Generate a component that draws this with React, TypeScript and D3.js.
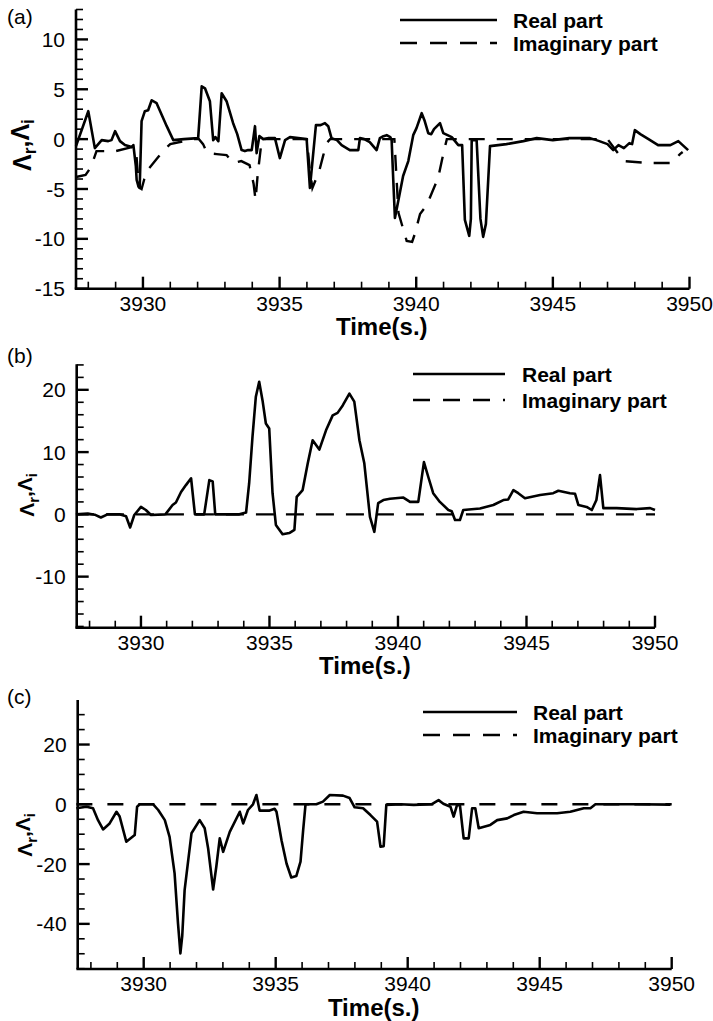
import React from "react";
import * as d3 from "d3";

// ---------- DATA ----------
const xTicksMajor = [3930, 3935, 3940, 3945, 3950];
const legendLabels = ["Real part", "Imaginary part"];
const panelLetters = ["(a)", "(b)", "(c)"];
const xAxisTitle = "Time(s.)";

const yTicksA = [-15, -10, -5, 0, 5, 10];
const yTicksB = [-10, 0, 10, 20];
const yTicksC = [-40, -20, 0, 20];

// Panel (a) real part [time, value]
const realA: [number, number][] = [
  [3927.55, -0.7], [3928.0, 2.8], [3928.24, -0.9], [3928.49, -0.1], [3928.73, -0.2],
  [3928.85, -0.1], [3928.98, 0.8], [3929.16, -0.2], [3929.34, -0.6], [3929.59, -0.8],
  [3929.65, -0.6], [3929.74, -2.7], [3929.77, -4.1], [3929.83, -4.7], [3929.88, -4.9],
  [3929.95, 1.8], [3930.07, 2.8], [3930.19, 2.9], [3930.32, 3.9], [3930.5, 3.6],
  [3930.87, 1.3], [3931.11, -0.1], [3931.5, 0.0], [3932.02, 0.1], [3932.15, 5.3],
  [3932.27, 5.1], [3932.45, 3.8], [3932.57, -0.1], [3932.65, 0.2], [3932.76, -0.2],
  [3932.88, 4.6], [3933.06, 3.8], [3933.3, 1.6], [3933.45, 0.5], [3933.61, -1.1],
  [3933.73, -1.2], [3933.85, -1.1], [3933.98, -1.1], [3934.1, 1.3], [3934.16, -1.4],
  [3934.26, 0.3], [3934.4, 0.0], [3934.6, 0.1], [3934.83, 0.1], [3935.01, -1.9],
  [3935.2, -0.1], [3935.38, 0.2], [3935.99, 0.0], [3936.11, -4.9], [3936.33, 1.4],
  [3936.5, 1.4], [3936.66, 1.6], [3936.78, 1.3], [3936.9, 0.1], [3937.1, -0.1],
  [3937.27, -0.6], [3937.57, -1.1], [3937.88, -1.1], [3937.94, 0.1], [3938.1, 0.0],
  [3938.3, -0.3], [3938.55, -1.1], [3938.67, 0.1], [3938.8, 0.3], [3938.92, 0.4],
  [3939.05, 0.2], [3939.1, -0.1], [3939.16, -4.1], [3939.22, -7.9], [3939.3, -6.8],
  [3939.52, -3.7], [3939.71, -2.2], [3939.89, 0.4], [3940.01, 1.1], [3940.2, 2.6],
  [3940.3, 1.9], [3940.44, 0.6], [3940.55, 0.5], [3940.65, 1.0], [3940.87, 1.6],
  [3940.99, 0.6], [3941.3, 0.2], [3941.54, -0.6], [3941.68, -0.6], [3941.78, -8.1],
  [3941.94, -9.7], [3942.0, -8.0], [3942.03, -0.1], [3942.21, -0.1], [3942.35, -8.0],
  [3942.45, -9.8], [3942.55, -8.5], [3942.7, -0.7], [3943.3, -0.5], [3943.92, -0.2],
  [3944.41, 0.1], [3945.0, -0.1], [3945.6, 0.1], [3946.36, 0.1], [3946.7, -0.2],
  [3947.0, -0.5], [3947.21, -1.1], [3947.4, -0.6], [3947.6, -0.9], [3947.8, -0.4],
  [3947.9, -0.5], [3948.0, 0.9], [3948.2, 0.5], [3948.5, 0.0], [3948.85, -0.6],
  [3949.3, -0.6], [3949.59, -0.2], [3949.95, -1.1],
];

// Panel (a) imaginary part
const imagA: [number, number][] = [
  [3927.55, -3.8], [3927.9, -3.6], [3928.1, -2.8], [3928.3, -1.2], [3929.0, -1.2],
  [3929.6, -0.8], [3929.75, -1.2], [3929.85, -4.8], [3929.95, -5.0], [3930.05, -4.0],
  [3930.2, -3.0], [3930.5, -2.0], [3930.8, -1.0], [3931.0, -0.5], [3931.5, -0.2],
  [3931.8, 0.0], [3932.05, 0.0], [3932.2, -0.5], [3932.35, -1.4], [3932.7, -1.5],
  [3933.06, -1.6], [3933.3, -2.4], [3933.6, -2.2], [3933.9, -2.6], [3934.05, -4.5],
  [3934.12, -6.1], [3934.2, -3.5], [3934.35, 0.0], [3936.0, 0.0], [3936.1, -3.0],
  [3936.2, -4.9], [3936.45, -3.2], [3936.6, -1.6], [3936.75, -0.3], [3936.85, 0.0],
  [3939.2, 0.0], [3939.35, -7.4], [3939.5, -8.8], [3939.65, -10.2], [3939.85, -10.3],
  [3939.95, -9.5], [3940.14, -7.5], [3940.39, -6.6], [3940.57, -5.4], [3940.8, -3.9],
  [3940.95, -2.0], [3941.05, -0.8], [3941.12, 0.0], [3947.0, 0.0], [3947.6, -2.2],
  [3948.5, -2.4], [3949.35, -2.4], [3949.65, -1.5], [3949.75, -1.3],
];

// Panel (b) real part
const realB: [number, number][] = [
  [3927.47, 0.0], [3927.93, 0.15], [3928.2, -0.05], [3928.44, -0.5], [3928.7, 0.0],
  [3929.16, 0.0], [3929.42, -0.3], [3929.58, -2.1], [3929.74, -0.1], [3930.0, 1.2],
  [3930.19, 0.7], [3930.39, -0.1], [3930.95, 0.0], [3931.23, 1.5], [3931.36, 1.9],
  [3931.56, 3.6], [3931.75, 4.7], [3931.95, 5.8], [3932.1, 0.0], [3932.46, 0.0],
  [3932.66, 5.5], [3932.79, 5.3], [3932.89, 0.0], [3933.83, 0.0], [3934.09, 0.3],
  [3934.21, 5.0], [3934.34, 12.5], [3934.47, 18.9], [3934.6, 21.3], [3934.73, 18.3],
  [3934.86, 14.6], [3934.99, 13.8], [3935.12, 3.4], [3935.25, -1.7], [3935.51, -3.2],
  [3935.77, -3.0], [3935.97, -2.5], [3936.06, 2.8], [3936.29, 3.9], [3936.49, 8.2],
  [3936.68, 11.9], [3936.94, 10.4], [3937.2, 13.5], [3937.46, 15.9], [3937.65, 16.3],
  [3937.85, 17.5], [3938.11, 19.4], [3938.3, 18.1], [3938.5, 11.9], [3938.69, 8.2],
  [3938.91, -0.4], [3939.08, -2.8], [3939.23, 1.8], [3939.43, 2.3], [3939.69, 2.5],
  [3940.21, 2.7], [3940.47, 2.0], [3940.79, 2.0], [3941.01, 8.4], [3941.18, 6.0],
  [3941.37, 3.4], [3941.63, 2.0], [3941.96, 0.7], [3942.09, 0.5], [3942.22, -0.9],
  [3942.41, -0.9], [3942.54, 0.7], [3943.19, 0.95], [3943.71, 1.5], [3944.1, 2.3],
  [3944.29, 2.4], [3944.49, 3.9], [3944.68, 3.4], [3944.94, 2.6], [3945.53, 3.1],
  [3946.04, 3.4], [3946.24, 3.8], [3946.69, 3.4], [3946.89, 3.3], [3947.02, 1.5],
  [3947.34, 1.2], [3947.54, 0.7], [3947.72, 2.3], [3947.86, 6.3], [3947.99, 1.0],
  [3948.51, 1.0], [3949.29, 0.85], [3949.81, 1.0], [3950.0, 0.7],
];

// Panel (b) imaginary part
const imagB: [number, number][] = [
  [3927.47, 0.0], [3950.0, 0.0],
];

// Panel (c) real part
const realC: [number, number][] = [
  [3927.45, -1.3], [3927.83, -0.8], [3928.08, -1.3], [3928.27, -5.3], [3928.46, -8.4],
  [3928.71, -6.4], [3928.97, -2.5], [3929.09, -4.1], [3929.34, -12.5], [3929.66, -10.3],
  [3929.75, -0.8], [3929.85, 0.0], [3930.36, 0.0], [3930.55, -1.9], [3930.8, -5.3],
  [3930.98, -10.9], [3931.17, -23.1], [3931.3, -39.9], [3931.39, -49.9], [3931.46, -44.0],
  [3931.55, -28.7], [3931.81, -9.7], [3932.12, -5.3], [3932.31, -8.0], [3932.44, -14.7],
  [3932.63, -28.5], [3932.75, -20.9], [3932.88, -11.4], [3933.01, -15.9], [3933.26, -9.2],
  [3933.64, -2.5], [3933.77, -6.4], [3933.95, -1.9], [3934.14, 0.0], [3934.27, 3.1],
  [3934.39, -2.1], [3934.77, -2.1], [3934.96, -1.5], [3935.03, -2.5], [3935.22, -12.0],
  [3935.41, -19.8], [3935.59, -24.5], [3935.78, -24.0], [3935.94, -19.2], [3936.04, -8.6],
  [3936.13, 0.0], [3936.54, 0.0], [3936.79, 0.9], [3937.05, 3.1], [3937.55, 2.9],
  [3937.8, 2.1], [3937.99, -1.0], [3938.31, -1.3], [3938.59, -3.6], [3938.84, -5.8],
  [3938.97, -14.2], [3939.09, -14.0], [3939.19, -0.2], [3939.72, 0.0], [3940.23, -0.2],
  [3940.9, 0.0], [3941.17, 1.4], [3941.35, 0.2], [3941.62, -0.8], [3941.74, -4.1],
  [3941.87, -0.2], [3941.98, -0.4], [3942.12, -11.4], [3942.31, -11.4], [3942.44, -1.3],
  [3942.56, -1.3], [3942.69, -8.0], [3943.13, -6.9], [3943.39, -5.3], [3943.77, -4.7],
  [3944.02, -3.6], [3944.39, -2.5], [3944.9, -3.0], [3945.66, -3.0], [3946.16, -2.5],
  [3946.67, -1.3], [3946.92, -1.3], [3947.11, 0.0], [3948.69, 0.0], [3949.95, -0.1],
];

// Panel (c) imaginary part
const imagC: [number, number][] = [
  [3927.45, 0.0], [3950.0, 0.0],
];

// ---------- LAYOUT ----------
const FONT = "Arial, 'Liberation Sans', Helvetica, sans-serif";

type PanelCfg = {
  letter: string;
  real: [number, number][];
  imag: [number, number][];
  xDomain: [number, number];
  yDomain: [number, number];
  left: number;
  right: number;
  top: number;
  bottom: number;
  yTicks: number[];
  yMinorStep: number;
  dash: string;
  letterY: number;
  legendX1: number;
  legendX2: number;
  legendTextX: number;
  legendY1: number;
  legendY2: number;
  yLabelX: number;
  yLabelY: number;
  yLabelSize: number;
};

const panels: PanelCfg[] = [
  {
    letter: panelLetters[0], real: realA, imag: imagA,
    xDomain: [3927.55, 3950], yDomain: [-15, 13],
    left: 76, right: 689.5, top: 9.5, bottom: 288.7,
    yTicks: yTicksA, yMinorStep: 1, dash: "16,12",
    letterY: 24, legendX1: 400, legendX2: 497, legendTextX: 513, legendY1: 20, legendY2: 43,
    yLabelX: 22, yLabelY: 145, yLabelSize: 25,
  },
  {
    letter: panelLetters[1], real: realB, imag: imagB,
    xDomain: [3927.5, 3950], yDomain: [-18.2, 24.1],
    left: 76.7, right: 655, top: 364.3, bottom: 627.7,
    yTicks: yTicksB, yMinorStep: 2, dash: "18,12",
    letterY: 363, legendX1: 413, legendX2: 505, legendTextX: 522, legendY1: 374, legendY2: 400,
    yLabelX: 27, yLabelY: 495, yLabelSize: 21,
  },
  {
    letter: panelLetters[2], real: realC, imag: imagC,
    xDomain: [3927.5, 3950], yDomain: [-55.1, 34.9],
    left: 77.7, right: 671.7, top: 700, bottom: 969,
    yTicks: yTicksC, yMinorStep: 5, dash: "16,15",
    letterY: 704, legendX1: 423, legendX2: 517, legendTextX: 533, legendY1: 712, legendY2: 735,
    yLabelX: 25, yLabelY: 835, yLabelSize: 21,
  },
];

function Panel({ p }: { p: PanelCfg }) {
  const x = d3.scaleLinear().domain(p.xDomain).range([p.left, p.right]);
  const y = d3.scaleLinear().domain(p.yDomain).range([p.bottom, p.top]);
  const line = d3
    .line<[number, number]>()
    .x((d) => x(d[0]))
    .y((d) => y(d[1]));

  const xMinor = d3.range(Math.ceil(p.xDomain[0]), p.xDomain[1] + 0.001, 1).filter((v) => !xTicksMajor.includes(v));
  const yMinor = d3
    .range(Math.ceil(p.yDomain[0] / p.yMinorStep) * p.yMinorStep, p.yDomain[1] + 0.001, p.yMinorStep)
    .filter((v) => !p.yTicks.includes(v));

  const axisW = 2.6;
  const majorLen = 12;
  const minorLen = 7;
  const cx = (p.left + p.right) / 2;

  return (
    <g>
      {/* data */}
      <path d={line(p.imag) || ""} fill="none" stroke="#000" strokeWidth={2.4} strokeDasharray={p.dash} />
      <path d={line(p.real) || ""} fill="none" stroke="#000" strokeWidth={2.6} strokeLinejoin="round" />

      {/* axes */}
      <line x1={p.left} x2={p.left} y1={p.top} y2={p.bottom} stroke="#000" strokeWidth={axisW} />
      <line x1={p.left - 1.3} x2={p.right} y1={p.bottom} y2={p.bottom} stroke="#000" strokeWidth={axisW} />

      {xTicksMajor.map((t) => (
        <g key={"xm" + t}>
          <line x1={x(t)} x2={x(t)} y1={p.bottom} y2={p.bottom - majorLen} stroke="#000" strokeWidth={2.4} />
          <text x={x(t)} y={p.bottom + 22} textAnchor="middle" fontFamily={FONT} fontSize={21} fill="#000">
            {t}
          </text>
        </g>
      ))}
      {xMinor.map((t) => (
        <line key={"xn" + t} x1={x(t)} x2={x(t)} y1={p.bottom} y2={p.bottom - minorLen} stroke="#000" strokeWidth={1.6} />
      ))}
      {p.yTicks.map((v) => (
        <g key={"ym" + v}>
          <line x1={p.left} x2={p.left + majorLen} y1={y(v)} y2={y(v)} stroke="#000" strokeWidth={2.4} />
          <text x={p.left - 11} y={y(v)} dy="0.36em" textAnchor="end" fontFamily={FONT} fontSize={21} fill="#000">
            {v}
          </text>
        </g>
      ))}
      {yMinor.map((v) => (
        <line key={"yn" + v} x1={p.left} x2={p.left + minorLen} y1={y(v)} y2={y(v)} stroke="#000" strokeWidth={1.6} />
      ))}

      {/* x axis title */}
      <text x={cx - 1} y={p.bottom + 46.5} textAnchor="middle" fontFamily={FONT} fontSize={24} fontWeight="bold" fill="#000">
        {xAxisTitle}
      </text>

      {/* y axis title */}
      <text
        transform={`translate(${p.yLabelX},${p.yLabelY}) rotate(-90)`}
        textAnchor="middle"
        fontFamily={FONT}
        fontSize={p.yLabelSize}
        fontWeight="bold"
        fill="#000"
        dy="0.35em"
      >
        <tspan>Λ</tspan>
        <tspan dy="0.3em" fontSize={p.yLabelSize * 0.7}>r</tspan>
        <tspan dy="-0.3em">,Λ</tspan>
        <tspan dy="0.3em" fontSize={p.yLabelSize * 0.7}>i</tspan>
      </text>

      {/* panel letter */}
      <text x={7} y={p.letterY} fontFamily={FONT} fontSize={21} fill="#000">
        {p.letter}
      </text>

      {/* legend */}
      <line x1={p.legendX1} x2={p.legendX2} y1={p.legendY1} y2={p.legendY1} stroke="#000" strokeWidth={2.4} />
      <text x={p.legendTextX} y={p.legendY1 + 7.5} fontFamily={FONT} fontSize={21} fontWeight="bold" fill="#000">
        {legendLabels[0]}
      </text>
      <line x1={p.legendX1} x2={p.legendX2} y1={p.legendY2} y2={p.legendY2} stroke="#000" strokeWidth={2.4} strokeDasharray="17,13" />
      <text x={p.legendTextX} y={p.legendY2 + 7.5} fontFamily={FONT} fontSize={21} fontWeight="bold" fill="#000">
        {legendLabels[1]}
      </text>
    </g>
  );
}

export default function App() {
  return (
    <svg
      width={713}
      height={1021}
      viewBox="0 0 713 1021"
      style={{ position: "absolute", left: 0, top: 0, background: "#fff" }}
    >
      <rect width={713} height={1021} fill="#fff" />
      {panels.map((p) => (
        <Panel key={p.letter} p={p} />
      ))}
    </svg>
  );
}
